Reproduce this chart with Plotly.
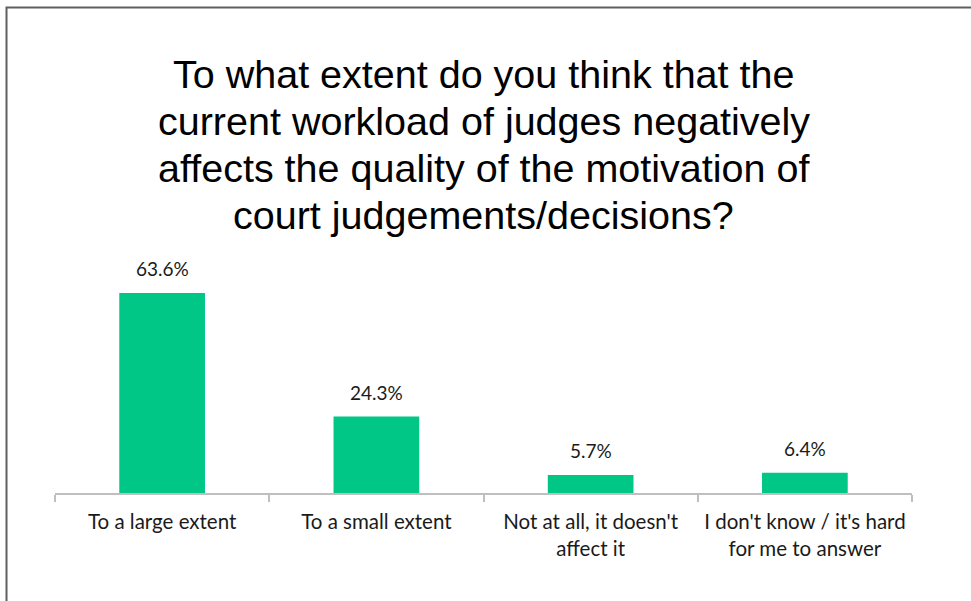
import plotly.graph_objects as go

# Survey answers and shares (%)
categories = [
    "To a large extent",
    "To a small extent",
    "Not at all, it doesn't<br>affect it",
    "I don't know / it's hard<br>for me to answer",
]
shares = [63.6, 24.3, 5.7, 6.4]
value_labels = ["63.6%", "24.3%", "5.7%", "6.4%"]

title_lines = [
    "To what extent do you think that the",
    "current workload of judges negatively",
    "affects the quality of the motivation of",
    "court judgements/decisions?",
]

W, H = 971, 601
ML, MR, MT, MB = 55, 59, 250, 108
plot_w = W - ML - MR
plot_h = H - MT - MB
px_per_unit = 3.145
y_max = plot_h / px_per_unit


def px_to_paper_x(px):
    return (px - ML) / plot_w


def px_to_paper_y(py):
    return (H - MB - py) / plot_h


fig = go.Figure(
    go.Bar(
        x=categories,
        y=shares,
        marker=dict(color="#00C785", line=dict(width=0)),
        hoverinfo="skip",
    )
)

# Value labels above each bar
for cat, val, lab in zip(categories, shares, value_labels):
    fig.add_annotation(
        x=cat, y=val, text=lab, showarrow=False,
        yanchor="bottom", yshift=11,
        font=dict(family="Lato", size=19, color="#1a1a1a"),
    )

# Title block, one line per annotation for tight line spacing
title_baseline0 = 88
title_step = 47
for i, line in enumerate(title_lines):
    fig.add_annotation(
        x=0.5, xref="paper",
        y=px_to_paper_y(title_baseline0 + i * title_step), yref="paper",
        text=line, showarrow=False, yanchor="middle", xanchor="center",
        yshift=14,
        font=dict(family="Liberation Sans", size=39.5, color="#000000"),
    )

# Outer frame of the chart area
fig.add_shape(
    type="rect", xref="paper", yref="paper",
    x0=px_to_paper_x(6.5), x1=px_to_paper_x(W + 20),
    y0=px_to_paper_y(H + 20), y1=px_to_paper_y(7.5),
    line=dict(color="#5f5f5f", width=2), fillcolor="rgba(0,0,0,0)",
    layer="above",
)

fig.update_layout(
    width=W, height=H,
    margin=dict(l=ML, r=MR, t=MT, b=MB, pad=0),
    paper_bgcolor="white", plot_bgcolor="white",
    bargap=0.6,
    showlegend=False,
    xaxis=dict(
        type="category",
        showline=True, linecolor="#BFBFBF", linewidth=1.5,
        ticks="outside", tickson="boundaries", ticklen=7,
        tickcolor="#BFBFBF", tickwidth=1.5,
        tickfont=dict(family="Lato", size=20.5, color="#1a1a1a"),
        ticklabelstandoff=10,
        showgrid=False, zeroline=False,
        fixedrange=True,
    ),
    yaxis=dict(
        range=[0, y_max], visible=False, showgrid=False, zeroline=False,
        fixedrange=True,
    ),
)

fig.write_html("out.html")
